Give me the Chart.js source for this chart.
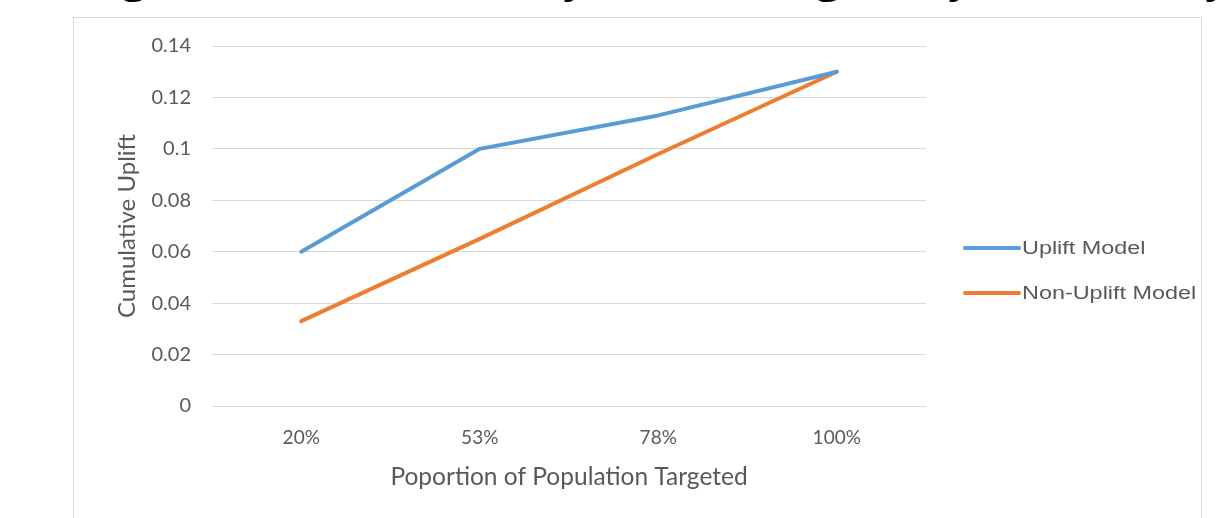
<!DOCTYPE html>
<html>
<head>
<meta charset="utf-8">
<script src="https://cdn.jsdelivr.net/npm/chart.js@4/dist/chart.umd.min.js"></script>
<style>
  html, body { margin: 0; padding: 0; background: #fff; overflow: hidden; }
  body { width: 1231px; height: 518px; position: relative; }
  .heading span {
    position: absolute; top: -51px; font: 48px/48px "Open Sans", sans-serif; color: #000;
  }
  #frame {
    position: absolute; left: 73px; top: 17px; width: 1129px; height: 520px;
    box-sizing: border-box; border: 1px solid #d9d9d9; background: #fff;
  }
  #chart { position: absolute; left: 0; top: 0; }
</style>
</head>
<body>
<div class="heading">
  <span style="left:121px">g</span>
  <span style="left:276px">,</span>
  <span style="left:564px">y</span>
  <span style="left:815px">g</span>
  <span style="left:949px">y</span>
  <span style="left:1206px">y</span>
</div>
<div id="frame"><canvas id="chart" width="1126" height="500"></canvas></div>
<script>
const categories = ['20%', '53%', '78%', '100%'];
const upliftModel = [0.06, 0.1, 0.113, 0.13];
const nonUpliftModel = [0.033, 0.065, 0.098, 0.13];
const seriesNames = ['Uplift Model', 'Non-Uplift Model'];
const seriesColors = ['#5B9BD5', '#ED7D31'];

const textColor = '#595959';
const gridColor = '#d9d9d9';

// Line-sample legend drawn to the right of the plot
const sideLegend = {
  id: 'sideLegend',
  afterDraw(chart) {
    const ctx = chart.ctx;
    const x0 = chart.chartArea.right + 39;
    const y0 = 230;
    ctx.save();
    chart.data.datasets.forEach((ds, i) => {
      const y = y0 + i * 45;
      ctx.strokeStyle = ds.borderColor;
      ctx.lineWidth = 4;
      ctx.lineCap = 'round';
      ctx.beginPath();
      ctx.moveTo(x0, y);
      ctx.lineTo(x0 + 54, y);
      ctx.stroke();
      ctx.save();
      ctx.translate(x0 + 57, y + 1);
      ctx.scale(1.3, 1);
      ctx.fillStyle = textColor;
      ctx.font = '18px "Liberation Sans", Arial, sans-serif';
      ctx.textBaseline = 'middle';
      ctx.textAlign = 'left';
      ctx.fillText(ds.label, 0, 0);
      ctx.restore();
    });
    ctx.restore();
  }
};

new Chart(document.getElementById('chart'), {
  type: 'line',
  data: {
    labels: categories,
    datasets: [
      { label: seriesNames[0], data: upliftModel, borderColor: seriesColors[0], backgroundColor: seriesColors[0] },
      { label: seriesNames[1], data: nonUpliftModel, borderColor: seriesColors[1], backgroundColor: seriesColors[1] }
    ]
  },
  options: {
    responsive: false,
    animation: false,
    devicePixelRatio: 1,
    layout: { padding: { left: 38, right: 274, top: 28, bottom: 26 } },
    elements: {
      line: { borderWidth: 4, tension: 0, borderCapStyle: 'round', borderJoinStyle: 'round' },
      point: { radius: 0, hoverRadius: 0 }
    },
    plugins: { legend: { display: false }, tooltip: { enabled: false } },
    scales: {
      x: {
        type: 'category',
        offset: true,
        grid: { display: false, drawTicks: false },
        border: { display: false },
        ticks: { color: textColor, font: { family: 'Lato', size: 19 }, padding: 20, maxRotation: 0 },
        title: {
          display: true, text: 'Poportion of Population Targeted', color: textColor,
          font: { family: 'Lato', size: 24.5 }, padding: { top: 0, bottom: 0 }
        },
        afterFit(scale) { scale.height = 86; }
      },
      y: {
        min: 0, max: 0.14,
        grid: { color: gridColor, lineWidth: 1, drawTicks: true, tickLength: 11, tickColor: 'rgba(0,0,0,0)' },
        border: { display: false },
        ticks: {
          stepSize: 0.02, color: textColor, font: { family: 'Lato', size: 20 }, padding: 10,
          callback: v => String(+v.toFixed(2))
        },
        title: {
          display: true, text: 'Cumulative Uplift', color: textColor,
          font: { family: 'Lato', size: 24 }, padding: { top: 1, bottom: 0 }
        },
        afterFit(scale) { scale.width = 100; }
      }
    }
  },
  plugins: [sideLegend]
});
</script>
</body>
</html>
